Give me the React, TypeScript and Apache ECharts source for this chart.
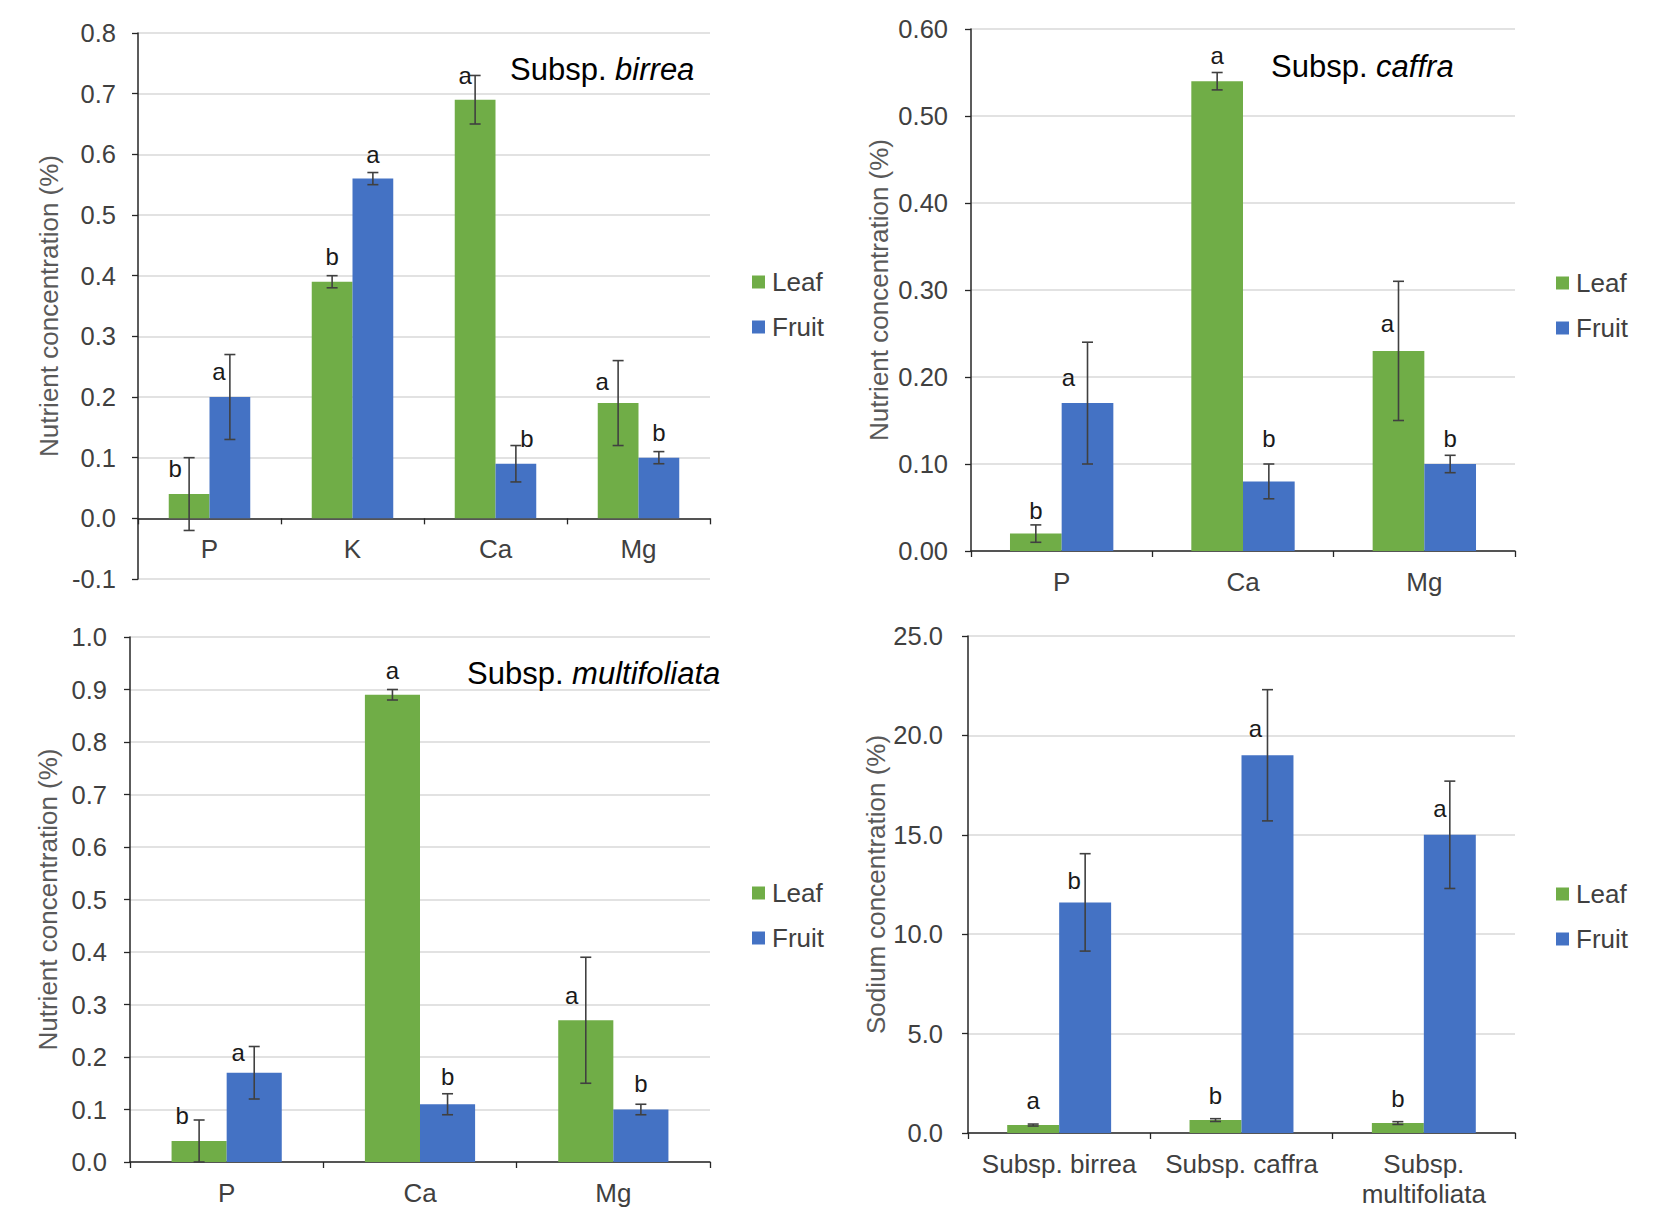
import React, { useEffect, useRef } from "react";
import * as echarts from "echarts";

const FONT = '"Liberation Sans", Arial, sans-serif';
const GREEN = "#70AD47";
const BLUE = "#4472C4";

// ---- Panel 1: Subsp. birrea ----
const birreaCats = ["P", "K", "Ca", "Mg"];
const birreaLeaf = [0.04, 0.39, 0.69, 0.19];
const birreaLeafErr = [0.06, 0.01, 0.04, 0.07];
const birreaFruit = [0.2, 0.56, 0.09, 0.1];
const birreaFruitErr = [0.07, 0.01, 0.03, 0.01];
const birreaLeafLetters = ["b", "b", "a", "a"];
const birreaFruitLetters = ["a", "a", "b", "b"];
const birreaLeafLetterY = [0.082, 0.431, 0.73, 0.226];
const birreaFruitLetterY = [0.242, 0.6, 0.132, 0.141];
const birreaTicks = [-0.1, 0.8, 0.1];

// ---- Panel 2: Subsp. caffra ----
const caffraCats = ["P", "Ca", "Mg"];
const caffraLeaf = [0.02, 0.54, 0.23];
const caffraLeafErr = [0.01, 0.01, 0.08];
const caffraFruit = [0.17, 0.08, 0.1];
const caffraFruitErr = [0.07, 0.02, 0.01];
const caffraLeafLetters = ["b", "a", "a"];
const caffraFruitLetters = ["a", "b", "b"];
const caffraLeafLetterY = [0.047, 0.569, 0.261];
const caffraFruitLetterY = [0.199, 0.129, 0.129];
const caffraTicks = [0, 0.6, 0.1];

// ---- Panel 3: Subsp. multifoliata ----
const multiCats = ["P", "Ca", "Mg"];
const multiLeaf = [0.04, 0.89, 0.27];
const multiLeafErr = [0.04, 0.01, 0.12];
const multiFruit = [0.17, 0.11, 0.1];
const multiFruitErr = [0.05, 0.02, 0.01];
const multiLeafLetters = ["b", "a", "a"];
const multiFruitLetters = ["a", "b", "b"];
const multiLeafLetterY = [0.088, 0.936, 0.317];
const multiFruitLetterY = [0.209, 0.163, 0.149];
const multiTicks = [0, 1.0, 0.1];

// ---- Panel 4: Sodium ----
const sodiumCats = ["Subsp. birrea", "Subsp. caffra", "Subsp.\nmultifoliata"];
const sodiumLeaf = [0.4, 0.65, 0.5];
const sodiumLeafErr = [0.05, 0.07, 0.07];
const sodiumFruit = [11.6, 19.0, 15.0];
const sodiumFruitErr = [2.45, 3.3, 2.7];
const sodiumLeafLetters = ["a", "b", "b"];
const sodiumFruitLetters = ["b", "a", "a"];
const sodiumLeafLetterY = [1.65, 1.91, 1.75];
const sodiumFruitLetterY = [12.69, 20.33, 16.3];
const sodiumTicks = [0, 25, 5];

// ---- layout (pixel) config, separate from data ----
const layouts = [
  { grid: { left: 138, top: 33, width: 572, height: 546 }, legend: { left: 747, top: 264 }, nameGap: 76, labelMargin: 22, decimals: 1, name: "Nutrient concentration (%)", leafDx: [-14, 0, -10, -16], fruitDx: [-11, 0, 11, 0] },
  { grid: { left: 971, top: 29, width: 544, height: 522 }, legend: { left: 1551, top: 265 }, nameGap: 79, labelMargin: 23, decimals: 2, name: "Nutrient concentration (%)", leafDx: [0, 0, -11], fruitDx: [-19, 0, 0] },
  { grid: { left: 130, top: 637, width: 580, height: 525 }, legend: { left: 747, top: 875 }, nameGap: 69, labelMargin: 23, decimals: 1, name: "Nutrient concentration (%)", leafDx: [-17, 0, -14], fruitDx: [-16, 0, 0] },
  { grid: { left: 968, top: 636, width: 547, height: 497 }, legend: { left: 1551, top: 876 }, nameGap: 76, labelMargin: 25, decimals: 1, name: "Sodium concentration (%)", leafDx: [0, 0, 0], fruitDx: [-11, -12, -10] },
];

const panels = [
  { cats: birreaCats, leaf: birreaLeaf, leafErr: birreaLeafErr, fruit: birreaFruit, fruitErr: birreaFruitErr, leafLetters: birreaLeafLetters, fruitLetters: birreaFruitLetters, leafLetterY: birreaLeafLetterY, fruitLetterY: birreaFruitLetterY, ticks: birreaTicks },
  { cats: caffraCats, leaf: caffraLeaf, leafErr: caffraLeafErr, fruit: caffraFruit, fruitErr: caffraFruitErr, leafLetters: caffraLeafLetters, fruitLetters: caffraFruitLetters, leafLetterY: caffraLeafLetterY, fruitLetterY: caffraFruitLetterY, ticks: caffraTicks },
  { cats: multiCats, leaf: multiLeaf, leafErr: multiLeafErr, fruit: multiFruit, fruitErr: multiFruitErr, leafLetters: multiLeafLetters, fruitLetters: multiFruitLetters, leafLetterY: multiLeafLetterY, fruitLetterY: multiFruitLetterY, ticks: multiTicks },
  { cats: sodiumCats, leaf: sodiumLeaf, leafErr: sodiumLeafErr, fruit: sodiumFruit, fruitErr: sodiumFruitErr, leafLetters: sodiumLeafLetters, fruitLetters: sodiumFruitLetters, leafLetterY: sodiumLeafLetterY, fruitLetterY: sodiumFruitLetterY, ticks: sodiumTicks },
];

const BAR_CAT_GAP = 0.43;

function errSeries(k: number, side: number, vals: number[], errs: number[], letterY: number[], letters: string[], dx: number[]) {
  return {
    type: "custom",
    name: "err" + k + "_" + side,
    xAxisIndex: k,
    yAxisIndex: k,
    z: 10,
    encode: { x: 0, y: 1 },
    data: vals.map((v, i) => [i, v, errs[i], letterY[i]]),
    renderItem: (params: any, api: any) => {
      const i = api.value(0);
      const v = api.value(1);
      const e = api.value(2);
      const ly = api.value(3);
      const band = api.size([1, 0])[0];
      const bw = (band * (1 - BAR_CAT_GAP)) / 2;
      const cx = api.coord([i, v])[0] + (side * bw) / 2;
      const yTop = api.coord([i, v + e])[1];
      const yBot = api.coord([i, v - e])[1];
      const cap = 5.5;
      const ls = { stroke: "#404040", lineWidth: 1.6 };
      return {
        type: "group",
        children: [
          { type: "line", shape: { x1: cx, y1: yTop, x2: cx, y2: yBot }, style: ls },
          { type: "line", shape: { x1: cx - cap, y1: yTop, x2: cx + cap, y2: yTop }, style: ls },
          { type: "line", shape: { x1: cx - cap, y1: yBot, x2: cx + cap, y2: yBot }, style: ls },
          {
            type: "text",
            x: cx + dx[params.dataIndex],
            y: api.coord([i, ly])[1],
            style: {
              text: letters[params.dataIndex],
              fill: "#1a1a1a",
              fontSize: 24,
              fontFamily: FONT,
              align: "center",
              verticalAlign: "middle",
            },
          },
        ],
      };
    },
  };
}

function buildOption() {
  const grid: any[] = [];
  const xAxis: any[] = [];
  const yAxis: any[] = [];
  const series: any[] = [];
  const legend: any[] = [];
  panels.forEach((p, k) => {
    const L = layouts[k];
    const [mn, mx] = p.ticks;
    // shift the category axis up to the zero line when the value axis goes below zero
    const zeroOffset = mn < 0 ? -(L.grid.height * (0 - mn)) / (mx - mn) : 0;
    grid.push({ ...L.grid, containLabel: false });
    xAxis.push({
      type: "category",
      gridIndex: k,
      data: p.cats,
      offset: zeroOffset,
      axisLine: { show: true, onZero: false, lineStyle: { color: "#262626", width: 1.5 } },
      axisTick: { show: true, length: 6, alignWithLabel: false, lineStyle: { color: "#262626", width: 1.3 } },
      axisLabel: { fontSize: 26, color: "#404040", fontFamily: FONT, margin: 16, lineHeight: 30, interval: 0 },
      splitLine: { show: false },
    });
    yAxis.push({
      type: "value",
      gridIndex: k,
      min: p.ticks[0],
      max: p.ticks[1],
      interval: p.ticks[2],
      axisLine: { show: true, lineStyle: { color: "#262626", width: 1.5 } },
      axisTick: { show: true, length: 6, lineStyle: { color: "#262626", width: 1.3 } },
      axisLabel: {
        fontSize: 25.5,
        color: "#404040",
        fontFamily: FONT,
        margin: L.labelMargin,
        formatter: (v: number) => v.toFixed(L.decimals),
      },
      splitLine: { show: true, lineStyle: { color: "#d9d9d9", width: 1.5 } },
      name: L.name,
      nameLocation: "middle",
      nameGap: L.nameGap,
      nameTextStyle: { fontSize: 26, color: "#595959", fontFamily: FONT },
    });
    series.push({
      type: "bar",
      name: "Leaf",
      xAxisIndex: k,
      yAxisIndex: k,
      data: p.leaf,
      barGap: "0%",
      barCategoryGap: BAR_CAT_GAP * 100 + "%",
      itemStyle: { color: GREEN },
    });
    series.push({
      type: "bar",
      name: "Fruit",
      xAxisIndex: k,
      yAxisIndex: k,
      data: p.fruit,
      barGap: "0%",
      barCategoryGap: BAR_CAT_GAP * 100 + "%",
      itemStyle: { color: BLUE },
    });
    series.push(errSeries(k, -1, p.leaf, p.leafErr, p.leafLetterY, p.leafLetters, L.leafDx));
    series.push(errSeries(k, 1, p.fruit, p.fruitErr, p.fruitLetterY, p.fruitLetters, L.fruitDx));
    legend.push({
      data: ["Leaf", "Fruit"],
      orient: "vertical",
      left: L.legend.left,
      top: L.legend.top,
      icon: "rect",
      itemWidth: 13,
      itemHeight: 13,
      itemGap: 19,
      selectedMode: false,
      textStyle: { fontSize: 26, color: "#404040", fontFamily: FONT, padding: [0, 0, 0, 2] },
    });
  });

  const titleRich = {
    n: { fontSize: 31, fontFamily: FONT, fill: "#000", color: "#000" },
    i: { fontSize: 31, fontFamily: FONT, fontStyle: "italic", fill: "#000", color: "#000" },
  };
  const titles = [
    { x: 510, y: 69, sp: "birrea" },
    { x: 1271, y: 66, sp: "caffra" },
    { x: 467, y: 673, sp: "multifoliata" },
  ];
  const graphic = titles.map((t) => ({
    type: "text",
    x: t.x,
    y: t.y,
    z: 20,
    style: {
      text: "{n|Subsp. }{i|" + t.sp + "}",
      rich: titleRich,
      fontSize: 31,
      fontFamily: FONT,
      fill: "#000",
      verticalAlign: "middle",
    },
  }));

  return {
    animation: false,
    backgroundColor: "#ffffff",
    textStyle: { fontFamily: FONT },
    grid,
    xAxis,
    yAxis,
    series,
    legend,
    graphic,
  };
}

export default function App() {
  const ref = useRef<HTMLDivElement>(null);
  useEffect(() => {
    if (!ref.current) return;
    const chart = echarts.init(ref.current, undefined, { renderer: "svg" });
    chart.setOption(buildOption() as any);
    return () => chart.dispose();
  }, []);
  return (
    <div
      ref={ref}
      style={{ position: "absolute", left: 0, top: 0, width: 1654, height: 1226, background: "#fff" }}
    />
  );
}
